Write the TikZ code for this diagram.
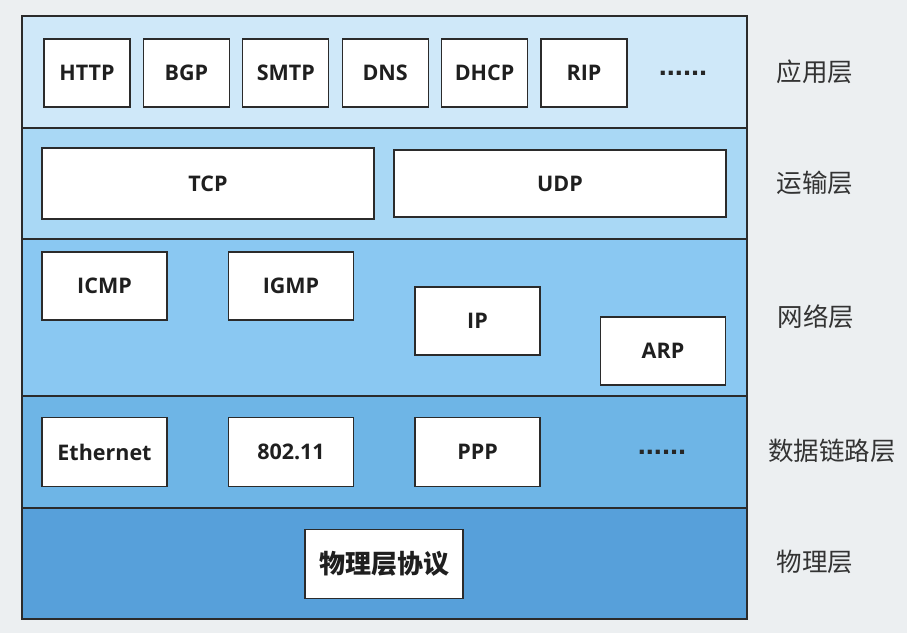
\documentclass[tikz,border=0pt]{standalone}
\usepackage{fontspec}
\setmainfont{Open Sans}
\newfontfamily\cjk{Noto Sans CJK SC}
\newfontfamily\dotfont{Liberation Sans}
\usepackage{tikz}
\usetikzlibrary{positioning}

\definecolor{bgGray}{HTML}{ECEFF1}
\definecolor{edgeGray}{HTML}{2B2B2B}
\definecolor{appBlue}{HTML}{CFE8F9}
\definecolor{transBlue}{HTML}{A9D8F5}
\definecolor{netBlue}{HTML}{8AC8F2}
\definecolor{linkBlue}{HTML}{6EB5E6}
\definecolor{phyBlue}{HTML}{57A0DA}

\tikzset{band/.style={draw=edgeGray, line width=1.4pt, minimum width=725pt, inner sep=0pt, outer sep=0pt}}
\tikzset{proto/.style={draw=edgeGray, fill=white, line width=1.3pt, minimum width=125pt, minimum height=68pt, inner sep=0pt, font=\fontsize{21.5}{24}\selectfont\bfseries, text=black!88}}
\tikzset{layername/.style={font=\cjk\fontsize{25.5}{28}\selectfont, text=black!80}}
\tikzset{moredots/.style={anchor=base, inner sep=0pt, font=\dotfont\fontsize{29}{30}\selectfont\bfseries, text=black!85}}

\begin{document}
\begin{tikzpicture}[x=1pt, y=-1pt]
\useasboundingbox[fill=bgGray] (0,0) rectangle (907,633);

% layers
\node[band, fill=appBlue, minimum height=112pt] (app) at (384.5,72) {};
\node[band, fill=transBlue, minimum height=111pt] (trans) at (384.5,183.5) {};
\node[band, fill=netBlue, minimum height=157pt] (net) at (384.5,317.5) {};
\node[band, fill=linkBlue, minimum height=112pt] (link) at (384.5,452) {};
\node[band, fill=phyBlue, minimum height=111pt] (phy) at (384.5,563.5) {};

% application layer
\foreach \name [count=\i from 0] in {HTTP,BGP,SMTP,DNS,DHCP,RIP}
	\node[proto, minimum width=86pt] (a\i) at (87+99.4*\i,73) {\name};
\node[moredots] (adots) at (683,75) {......};

% transport layer
\node[proto, minimum width=332pt, minimum height=71pt] (tcp) at (208,183.5) {TCP};
\node[proto, minimum width=332pt, minimum height=67pt] (udp) at (560,183.5) {UDP};

% network layer
\node[proto] (icmp) at (104.5,286) {ICMP};
\node[proto] (igmp) at (291,286) {IGMP};
\node[proto] (ip) at (477.5,321) {IP};
\node[proto] (arp) at (663,351) {ARP};

% data link layer
\node[proto, minimum height=69pt] (eth) at (104.5,452) {Ethernet};
\node[proto, minimum height=69pt] (wifi) at (291,452) {802.11};
\node[proto, minimum height=69pt] (ppp) at (477.5,452) {PPP};
\node[moredots] (ldots) at (662,454) {......};

% physical layer
\node[proto, minimum width=158pt, minimum height=69pt, font=\cjk\fontsize{26}{28}\selectfont\bfseries] (phyproto) at (384,564) {物理层协议};

% layer names
\node[layername] (appname) at (815,72) {应用层};
\node[layername] (transname) at (815,183) {运输层};
\node[layername] (netname) at (816,317) {网络层};
\node[layername] (linkname) at (832,451) {数据链路层};
\node[layername] (phyname) at (815,562) {物理层};

\end{tikzpicture}
\end{document}
